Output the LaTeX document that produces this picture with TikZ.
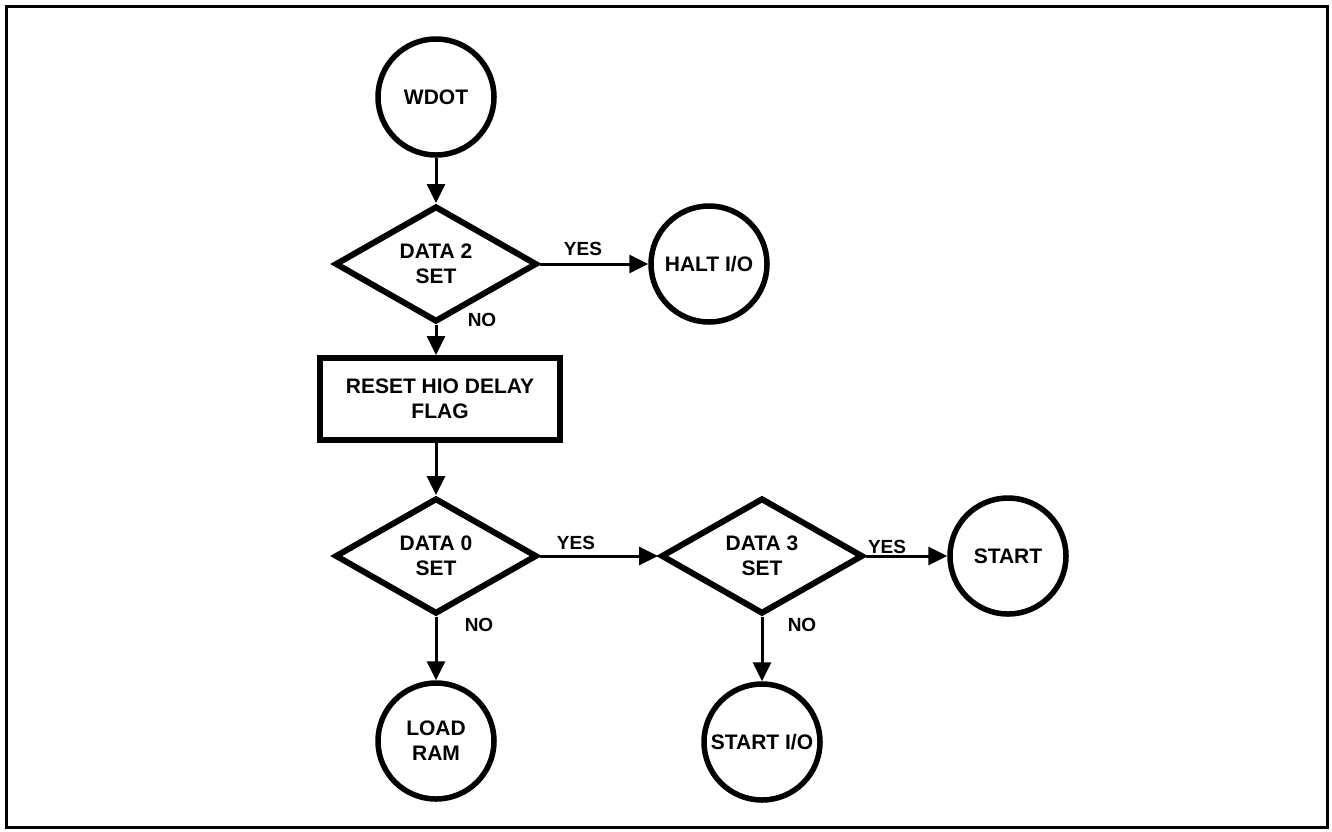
\documentclass[tikz,border=0pt]{standalone}
\usepackage{fontspec}
\setmainfont{Liberation Sans}
\usetikzlibrary{shapes.geometric,arrows.meta}
\begin{document}
\begin{tikzpicture}[x=1pt,y=-1pt,
  every node/.style={font=\bfseries\fontsize{21}{25}\selectfont, align=center, inner sep=0pt},
  term/.style={circle, draw, line width=5.5pt, minimum size=116pt},
  decide/.style={diamond, draw, line width=6pt, minimum width=202pt, minimum height=116pt},
  proc/.style={rectangle, draw, line width=6pt, minimum width=240pt, minimum height=82pt},
  flow/.style={line width=3pt, -{Triangle[length=19pt,width=18pt]}},
  lbl/.style={font=\bfseries\fontsize{19}{22}\selectfont}
]
% page extent and outer frame
\useasboundingbox (0,0) rectangle (1332,831);
\draw[line width=3pt] (6,6) rectangle (1327,827);

% blocks
\node[term]   (wdot)  at (436,97)  {WDOT};
\node[decide] (d2)    at (436,264) {DATA 2\\SET};
\node[term]   (halt)  at (709,264) {HALT I/O};
\node[proc]   (reset) at (440,399) {RESET HIO DELAY\\FLAG};
\node[decide] (d0)    at (436,556) {DATA 0\\SET};
\node[decide] (d3)    at (762,556) {DATA 3\\SET};
\node[term]   (start) at (1008,556) {START};
\node[term]   (sio)   at (762,742) {START I/O};
\node[term]   (load)  at (436,741) {LOAD\\RAM};

% connectors
\draw[flow] (wdot) -- (d2);
\draw[flow] (d2) -- (halt);
\draw[flow] (d2.south) -- (d2.south |- reset.north);
\draw[flow] (d2.south |- reset.south) -- (d0.north);
\draw[flow] (d0.east) -- (d3.west);
\draw[flow] (d3.east) -- (start);
\draw[flow] (d3) -- (sio);
\draw[flow] (d0) -- (load);

% branch labels
\node[lbl] (y2) at (583,249) {YES};
\node[lbl] (n2) at (482,320) {NO};
\node[lbl] (y0) at (576,543) {YES};
\node[lbl] (n0) at (479,625) {NO};
\node[lbl] (y3) at (887,547) {YES};
\node[lbl] (n3) at (802,625) {NO};
\end{tikzpicture}
\end{document}
